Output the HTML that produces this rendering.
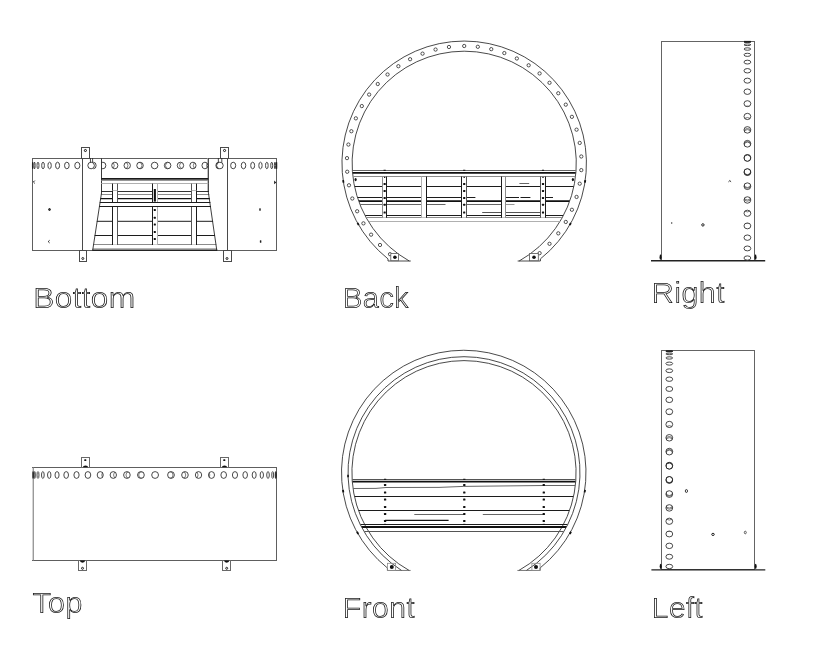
<!DOCTYPE html>
<html lang="en"><head><meta charset="utf-8"><title>Views</title>
<style>
html,body{margin:0;padding:0;background:#fff;}
body{width:819px;height:658px;overflow:hidden;font-family:"Liberation Sans",sans-serif;}
svg{display:block;}
svg text{font-family:"Liberation Sans",sans-serif;}
</style></head><body>
<svg width="819" height="658" viewBox="0 0 819 658">
<rect width="819" height="658" fill="#fff"/>
<path d="M388.00 261.0 L388.00 258.90 A122.25 122.25 0 1 1 540.40 258.90 L540.40 261.0" fill="none" stroke="#1c1c1c" stroke-width="0.8"/>
<path d="M409.24 261.0 A112.1 112.1 0 1 1 519.16 261.0" fill="none" stroke="#1c1c1c" stroke-width="0.8"/>
<line x1="388.00" y1="261.00" x2="410.74" y2="261.00" stroke="#1c1c1c" stroke-width="0.8" />
<line x1="517.66" y1="261.00" x2="540.40" y2="261.00" stroke="#1c1c1c" stroke-width="0.8" />
<ellipse cx="464.20" cy="46.00" rx="1.65" ry="1.65" fill="none" stroke="#1c1c1c" stroke-width="0.75" />
<ellipse cx="477.82" cy="46.79" rx="1.65" ry="1.65" fill="none" stroke="#1c1c1c" stroke-width="0.75" />
<ellipse cx="448.96" cy="46.99" rx="1.65" ry="1.65" fill="none" stroke="#1c1c1c" stroke-width="0.75" />
<ellipse cx="491.25" cy="49.16" rx="1.65" ry="1.65" fill="none" stroke="#1c1c1c" stroke-width="0.75" />
<ellipse cx="435.56" cy="49.55" rx="1.65" ry="1.65" fill="none" stroke="#1c1c1c" stroke-width="0.75" />
<ellipse cx="504.32" cy="53.07" rx="1.65" ry="1.65" fill="none" stroke="#1c1c1c" stroke-width="0.75" />
<ellipse cx="422.55" cy="53.64" rx="1.65" ry="1.65" fill="none" stroke="#1c1c1c" stroke-width="0.75" />
<ellipse cx="516.84" cy="58.48" rx="1.65" ry="1.65" fill="none" stroke="#1c1c1c" stroke-width="0.75" />
<ellipse cx="410.10" cy="59.22" rx="1.65" ry="1.65" fill="none" stroke="#1c1c1c" stroke-width="0.75" />
<ellipse cx="528.66" cy="65.30" rx="1.65" ry="1.65" fill="none" stroke="#1c1c1c" stroke-width="0.75" />
<ellipse cx="398.38" cy="66.21" rx="1.65" ry="1.65" fill="none" stroke="#1c1c1c" stroke-width="0.75" />
<ellipse cx="539.60" cy="73.44" rx="1.65" ry="1.65" fill="none" stroke="#1c1c1c" stroke-width="0.75" />
<ellipse cx="387.55" cy="74.50" rx="1.65" ry="1.65" fill="none" stroke="#1c1c1c" stroke-width="0.75" />
<ellipse cx="549.52" cy="82.80" rx="1.65" ry="1.65" fill="none" stroke="#1c1c1c" stroke-width="0.75" />
<ellipse cx="377.76" cy="84.00" rx="1.65" ry="1.65" fill="none" stroke="#1c1c1c" stroke-width="0.75" />
<ellipse cx="558.29" cy="93.25" rx="1.65" ry="1.65" fill="none" stroke="#1c1c1c" stroke-width="0.75" />
<ellipse cx="369.14" cy="94.57" rx="1.65" ry="1.65" fill="none" stroke="#1c1c1c" stroke-width="0.75" />
<ellipse cx="565.78" cy="104.65" rx="1.65" ry="1.65" fill="none" stroke="#1c1c1c" stroke-width="0.75" />
<ellipse cx="361.81" cy="106.07" rx="1.65" ry="1.65" fill="none" stroke="#1c1c1c" stroke-width="0.75" />
<ellipse cx="571.91" cy="116.84" rx="1.65" ry="1.65" fill="none" stroke="#1c1c1c" stroke-width="0.75" />
<ellipse cx="355.86" cy="118.35" rx="1.65" ry="1.65" fill="none" stroke="#1c1c1c" stroke-width="0.75" />
<ellipse cx="576.57" cy="129.66" rx="1.65" ry="1.65" fill="none" stroke="#1c1c1c" stroke-width="0.75" />
<ellipse cx="351.37" cy="131.23" rx="1.65" ry="1.65" fill="none" stroke="#1c1c1c" stroke-width="0.75" />
<ellipse cx="579.72" cy="142.93" rx="1.65" ry="1.65" fill="none" stroke="#1c1c1c" stroke-width="0.75" />
<ellipse cx="348.41" cy="144.55" rx="1.65" ry="1.65" fill="none" stroke="#1c1c1c" stroke-width="0.75" />
<ellipse cx="581.30" cy="156.48" rx="1.65" ry="1.65" fill="none" stroke="#1c1c1c" stroke-width="0.75" />
<ellipse cx="347.01" cy="158.12" rx="1.65" ry="1.65" fill="none" stroke="#1c1c1c" stroke-width="0.75" />
<ellipse cx="581.30" cy="170.12" rx="1.65" ry="1.65" fill="none" stroke="#1c1c1c" stroke-width="0.75" />
<ellipse cx="347.21" cy="171.75" rx="1.65" ry="1.65" fill="none" stroke="#1c1c1c" stroke-width="0.75" />
<ellipse cx="579.72" cy="183.67" rx="1.65" ry="1.65" fill="none" stroke="#1c1c1c" stroke-width="0.75" />
<ellipse cx="348.98" cy="185.28" rx="1.65" ry="1.65" fill="none" stroke="#1c1c1c" stroke-width="0.75" />
<ellipse cx="576.57" cy="196.94" rx="1.65" ry="1.65" fill="none" stroke="#1c1c1c" stroke-width="0.75" />
<ellipse cx="352.31" cy="198.51" rx="1.65" ry="1.65" fill="none" stroke="#1c1c1c" stroke-width="0.75" />
<ellipse cx="571.91" cy="209.76" rx="1.65" ry="1.65" fill="none" stroke="#1c1c1c" stroke-width="0.75" />
<ellipse cx="357.15" cy="211.26" rx="1.65" ry="1.65" fill="none" stroke="#1c1c1c" stroke-width="0.75" />
<ellipse cx="565.78" cy="221.95" rx="1.65" ry="1.65" fill="none" stroke="#1c1c1c" stroke-width="0.75" />
<ellipse cx="363.44" cy="223.36" rx="1.65" ry="1.65" fill="none" stroke="#1c1c1c" stroke-width="0.75" />
<ellipse cx="558.29" cy="233.35" rx="1.65" ry="1.65" fill="none" stroke="#1c1c1c" stroke-width="0.75" />
<ellipse cx="371.10" cy="234.65" rx="1.65" ry="1.65" fill="none" stroke="#1c1c1c" stroke-width="0.75" />
<ellipse cx="549.52" cy="243.80" rx="1.65" ry="1.65" fill="none" stroke="#1c1c1c" stroke-width="0.75" />
<ellipse cx="380.01" cy="244.98" rx="1.65" ry="1.65" fill="none" stroke="#1c1c1c" stroke-width="0.75" />
<ellipse cx="539.60" cy="253.16" rx="1.65" ry="1.65" fill="none" stroke="#1c1c1c" stroke-width="0.75" />
<ellipse cx="390.06" cy="254.20" rx="1.65" ry="1.65" fill="none" stroke="#1c1c1c" stroke-width="0.75" />
<rect x="390.80" y="253.60" width="7.80" height="7.10" fill="#fff" stroke="#555" stroke-width="0.8"/>
<circle cx="394.90" cy="257.30" r="1.8" fill="#111"/>
<rect x="529.50" y="253.60" width="8.80" height="7.10" fill="#fff" stroke="#555" stroke-width="0.8"/>
<circle cx="534.00" cy="257.30" r="1.8" fill="#111"/>
<line x1="343.49" y1="182.63" x2="343.11" y2="180.10" stroke="#111" stroke-width="1.8" />
<line x1="585.29" y1="180.10" x2="584.91" y2="182.63" stroke="#111" stroke-width="1.8" />
<line x1="358.76" y1="225.16" x2="357.49" y2="222.94" stroke="#111" stroke-width="1.8" />
<line x1="570.91" y1="222.94" x2="569.64" y2="225.16" stroke="#111" stroke-width="1.8" />
<clipPath id="cb"><circle cx="464.2" cy="163.3" r="111.89999999999999"/></clipPath>
<g clip-path="url(#cb)">
<line x1="340.00" y1="170.50" x2="590.00" y2="170.50" stroke="#555" stroke-width="0.9" />
<line x1="340.00" y1="172.85" x2="590.00" y2="172.85" stroke="#111" stroke-width="1.85" />
<line x1="340.00" y1="176.50" x2="590.00" y2="176.50" stroke="#8c8c8c" stroke-width="1.0" />
<line x1="340.00" y1="186.50" x2="590.00" y2="186.50" stroke="#1c1c1c" stroke-width="1.0" />
<line x1="340.00" y1="197.50" x2="475.40" y2="197.50" stroke="#1c1c1c" stroke-width="1.0" />
<line x1="505.70" y1="197.50" x2="519.00" y2="197.50" stroke="#1c1c1c" stroke-width="1.0" />
<line x1="520.50" y1="197.50" x2="530.40" y2="197.50" stroke="#1c1c1c" stroke-width="1.0" />
<line x1="545.30" y1="197.50" x2="553.00" y2="197.50" stroke="#1c1c1c" stroke-width="1.0" />
<line x1="340.00" y1="201.20" x2="590.00" y2="201.20" stroke="#111" stroke-width="1.7" />
<line x1="340.00" y1="204.50" x2="445.50" y2="204.50" stroke="#555" stroke-width="0.9" />
<line x1="466.60" y1="204.50" x2="501.70" y2="204.50" stroke="#555" stroke-width="0.9" />
<line x1="505.70" y1="204.50" x2="514.50" y2="204.50" stroke="#8c8c8c" stroke-width="0.9" />
<line x1="482.20" y1="212.50" x2="540.80" y2="212.50" stroke="#555" stroke-width="1.0" />
<line x1="519.40" y1="183.50" x2="529.20" y2="183.50" stroke="#555" stroke-width="0.9" />
<line x1="340.00" y1="215.50" x2="590.00" y2="215.50" stroke="#1c1c1c" stroke-width="1.0" />
<line x1="340.00" y1="217.50" x2="590.00" y2="217.50" stroke="#8c8c8c" stroke-width="1.0" />
<line x1="340.00" y1="221.50" x2="590.00" y2="221.50" stroke="#b0b0b0" stroke-width="1.0" />
<rect x="382.5" y="177.5" width="4.00" height="40.0" fill="#fff"/>
<line x1="382.50" y1="176.50" x2="382.50" y2="217.80" stroke="#8c8c8c" stroke-width="1.0" />
<line x1="386.50" y1="176.50" x2="386.50" y2="217.80" stroke="#1c1c1c" stroke-width="1.0" />
<rect x="383.57" y="182.92" width="2.1849999999999996" height="1.9549999999999998" rx="0.5" fill="#111"/>
<rect x="383.57" y="190.02" width="2.1849999999999996" height="1.9549999999999998" rx="0.5" fill="#111"/>
<rect x="383.57" y="197.12" width="2.1849999999999996" height="1.9549999999999998" rx="0.5" fill="#111"/>
<rect x="383.57" y="203.82" width="2.1849999999999996" height="1.9549999999999998" rx="0.5" fill="#111"/>
<rect x="383.57" y="211.62" width="2.1849999999999996" height="1.9549999999999998" rx="0.5" fill="#111"/>
<line x1="383.56" y1="170.30" x2="385.76" y2="170.30" stroke="#111" stroke-width="1.1" />
<rect x="383.97" y="176.83" width="1.38" height="1.15" rx="0.5" fill="#111"/>
<rect x="421.5" y="177.5" width="5.00" height="40.0" fill="#fff"/>
<line x1="421.50" y1="176.50" x2="421.50" y2="217.80" stroke="#b0b0b0" stroke-width="1.0" />
<line x1="426.50" y1="176.50" x2="426.50" y2="217.80" stroke="#1c1c1c" stroke-width="1.0" />
<rect x="461.5" y="177.5" width="5.00" height="40.0" fill="#fff"/>
<line x1="461.50" y1="176.50" x2="461.50" y2="217.80" stroke="#1c1c1c" stroke-width="1.0" />
<line x1="466.50" y1="176.50" x2="466.50" y2="217.80" stroke="#555" stroke-width="1.0" />
<rect x="463.11" y="182.92" width="2.1849999999999996" height="1.9549999999999998" rx="0.5" fill="#111"/>
<rect x="463.11" y="190.02" width="2.1849999999999996" height="1.9549999999999998" rx="0.5" fill="#111"/>
<rect x="463.11" y="197.12" width="2.1849999999999996" height="1.9549999999999998" rx="0.5" fill="#111"/>
<rect x="463.11" y="203.82" width="2.1849999999999996" height="1.9549999999999998" rx="0.5" fill="#111"/>
<rect x="463.11" y="211.62" width="2.1849999999999996" height="1.9549999999999998" rx="0.5" fill="#111"/>
<line x1="463.10" y1="170.30" x2="465.30" y2="170.30" stroke="#111" stroke-width="1.1" />
<rect x="463.51" y="176.83" width="1.38" height="1.15" rx="0.5" fill="#111"/>
<rect x="501.5" y="177.5" width="4.00" height="40.0" fill="#fff"/>
<line x1="501.50" y1="176.50" x2="501.50" y2="217.80" stroke="#1c1c1c" stroke-width="1.0" />
<line x1="505.50" y1="176.50" x2="505.50" y2="217.80" stroke="#8c8c8c" stroke-width="1.0" />
<rect x="540.5" y="177.5" width="5.00" height="40.0" fill="#fff"/>
<line x1="540.50" y1="176.50" x2="540.50" y2="217.80" stroke="#555" stroke-width="1.0" />
<line x1="545.50" y1="176.50" x2="545.50" y2="217.80" stroke="#1c1c1c" stroke-width="1.0" />
<rect x="541.91" y="182.92" width="2.1849999999999996" height="1.9549999999999998" rx="0.5" fill="#111"/>
<rect x="541.91" y="190.02" width="2.1849999999999996" height="1.9549999999999998" rx="0.5" fill="#111"/>
<rect x="541.91" y="197.12" width="2.1849999999999996" height="1.9549999999999998" rx="0.5" fill="#111"/>
<rect x="541.91" y="203.82" width="2.1849999999999996" height="1.9549999999999998" rx="0.5" fill="#111"/>
<rect x="541.91" y="211.62" width="2.1849999999999996" height="1.9549999999999998" rx="0.5" fill="#111"/>
<line x1="541.90" y1="170.30" x2="544.10" y2="170.30" stroke="#111" stroke-width="1.1" />
<rect x="542.31" y="176.83" width="1.38" height="1.15" rx="0.5" fill="#111"/>
<ellipse cx="355.6" cy="179.6" rx="1.1" ry="1.6" fill="#111"/>
<ellipse cx="572.9" cy="179.6" rx="1.1" ry="1.6" fill="#111"/>
</g>
<path d="M387.40 570.45 L387.40 567.98 A122.25 122.25 0 1 1 540.10 567.98 L540.10 570.45" fill="none" stroke="#1c1c1c" stroke-width="0.8"/>
<path d="M401.54 570.45 A116.0 116.0 0 1 1 526.46 570.45" fill="none" stroke="#1c1c1c" stroke-width="0.8"/>
<path d="M409.12 570.45 A112.1 112.1 0 1 1 518.88 570.45" fill="none" stroke="#1c1c1c" stroke-width="0.8"/>
<line x1="387.40" y1="570.45" x2="410.62" y2="570.45" stroke="#555" stroke-width="0.8" />
<line x1="517.38" y1="570.45" x2="540.10" y2="570.45" stroke="#555" stroke-width="0.8" />
<rect x="387.40" y="563.30" width="8.20" height="7.15" fill="none" stroke="#8c8c8c" stroke-width="0.8"/>
<circle cx="391.80" cy="567.00" r="2.0" fill="#111"/>
<rect x="531.90" y="563.30" width="8.20" height="7.15" fill="none" stroke="#8c8c8c" stroke-width="0.8"/>
<circle cx="536.00" cy="567.00" r="2.0" fill="#111"/>
<line x1="343.36" y1="492.46" x2="342.97" y2="489.93" stroke="#111" stroke-width="1.8" />
<line x1="585.03" y1="489.93" x2="584.64" y2="492.46" stroke="#111" stroke-width="1.8" />
<line x1="358.24" y1="534.01" x2="356.97" y2="531.78" stroke="#111" stroke-width="1.8" />
<line x1="571.03" y1="531.78" x2="569.76" y2="534.01" stroke="#111" stroke-width="1.8" />
<line x1="348.09" y1="477.15" x2="348.02" y2="474.72" stroke="#111" stroke-width="1.6" />
<clipPath id="cf"><circle cx="464.0" cy="472.7" r="111.89999999999999"/></clipPath>
<clipPath id="cf2"><circle cx="464.0" cy="472.7" r="115.8"/></clipPath>
<g clip-path="url(#cf)">
<line x1="340.00" y1="479.50" x2="590.00" y2="479.50" stroke="#555" stroke-width="1.0" />
<line x1="340.00" y1="481.70" x2="590.00" y2="481.70" stroke="#111" stroke-width="1.7" />
<polyline points="340,488.6 353,488.5 376,488.4 386,487.5 439,487.4 463.8,486.4 543.8,485.5 590,485.5" fill="none" stroke="#555" stroke-width="0.9"/>
<line x1="340.00" y1="496.50" x2="590.00" y2="496.50" stroke="#1c1c1c" stroke-width="1.0" />
<line x1="340.00" y1="510.50" x2="590.00" y2="510.50" stroke="#1c1c1c" stroke-width="1.0" />
<line x1="414.30" y1="514.50" x2="463.80" y2="514.50" stroke="#555" stroke-width="0.9" />
<line x1="482.80" y1="514.50" x2="543.80" y2="514.50" stroke="#555" stroke-width="0.9" />
<line x1="385.10" y1="520.40" x2="448.60" y2="520.40" stroke="#111" stroke-width="1.25" />
</g><g clip-path="url(#cf2)">
<line x1="340.00" y1="524.50" x2="590.00" y2="524.50" stroke="#1c1c1c" stroke-width="1.0" />
<line x1="340.00" y1="527.00" x2="590.00" y2="527.00" stroke="#111" stroke-width="1.8" />
<line x1="340.00" y1="531.50" x2="590.00" y2="531.50" stroke="#555" stroke-width="1.0" />
</g>
<rect x="383.95" y="483.99" width="2.3" height="2.0124999999999997" rx="0.5" fill="#111"/>
<rect x="383.95" y="491.59" width="2.3" height="2.0124999999999997" rx="0.5" fill="#111"/>
<rect x="383.95" y="498.39" width="2.3" height="2.0124999999999997" rx="0.5" fill="#111"/>
<rect x="383.95" y="505.89" width="2.3" height="2.0124999999999997" rx="0.5" fill="#111"/>
<rect x="383.95" y="512.89" width="2.3" height="2.0124999999999997" rx="0.5" fill="#111"/>
<rect x="383.95" y="519.89" width="2.3" height="2.0124999999999997" rx="0.5" fill="#111"/>
<line x1="384.00" y1="479.30" x2="386.20" y2="479.30" stroke="#111" stroke-width="1.1" />
<line x1="384.00" y1="524.40" x2="386.20" y2="524.40" stroke="#111" stroke-width="1.1" />
<rect x="463.15" y="483.99" width="2.3" height="2.0124999999999997" rx="0.5" fill="#111"/>
<rect x="463.15" y="491.59" width="2.3" height="2.0124999999999997" rx="0.5" fill="#111"/>
<rect x="463.15" y="498.39" width="2.3" height="2.0124999999999997" rx="0.5" fill="#111"/>
<rect x="463.15" y="505.89" width="2.3" height="2.0124999999999997" rx="0.5" fill="#111"/>
<rect x="463.15" y="512.89" width="2.3" height="2.0124999999999997" rx="0.5" fill="#111"/>
<rect x="463.15" y="519.89" width="2.3" height="2.0124999999999997" rx="0.5" fill="#111"/>
<line x1="463.20" y1="479.30" x2="465.40" y2="479.30" stroke="#111" stroke-width="1.1" />
<line x1="463.20" y1="524.40" x2="465.40" y2="524.40" stroke="#111" stroke-width="1.1" />
<rect x="542.65" y="483.99" width="2.3" height="2.0124999999999997" rx="0.5" fill="#111"/>
<rect x="542.65" y="491.59" width="2.3" height="2.0124999999999997" rx="0.5" fill="#111"/>
<rect x="542.65" y="498.39" width="2.3" height="2.0124999999999997" rx="0.5" fill="#111"/>
<rect x="542.65" y="505.89" width="2.3" height="2.0124999999999997" rx="0.5" fill="#111"/>
<rect x="542.65" y="512.89" width="2.3" height="2.0124999999999997" rx="0.5" fill="#111"/>
<rect x="542.65" y="519.89" width="2.3" height="2.0124999999999997" rx="0.5" fill="#111"/>
<line x1="542.70" y1="479.30" x2="544.90" y2="479.30" stroke="#111" stroke-width="1.1" />
<line x1="542.70" y1="524.40" x2="544.90" y2="524.40" stroke="#111" stroke-width="1.1" />
<rect x="32.5" y="158.5" width="244.0" height="92.0" fill="none" stroke="#5e5e5e" stroke-width="1"/>
<line x1="82.50" y1="158.20" x2="82.50" y2="251.00" stroke="#4a4a4a" stroke-width="1.0" />
<line x1="227.50" y1="158.20" x2="227.50" y2="251.00" stroke="#4a4a4a" stroke-width="1.0" />
<line x1="101.50" y1="158.20" x2="101.50" y2="193.50" stroke="#3a3a3a" stroke-width="1.0" />
<line x1="208.50" y1="158.20" x2="208.50" y2="192.00" stroke="#4a4a4a" stroke-width="1.0" />
<line x1="207.50" y1="158.20" x2="207.50" y2="192.00" stroke="#b0b0b0" stroke-width="0.8" />
<rect x="81.5" y="147.5" width="8.0" height="11.0" fill="none" stroke="#4a4a4a" stroke-width="1"/>
<ellipse cx="85.40" cy="150.50" rx="1.05" ry="1.05" fill="none" stroke="#111" stroke-width="1.0" />
<rect x="220.5" y="147.5" width="8.0" height="11.0" fill="none" stroke="#4a4a4a" stroke-width="1"/>
<ellipse cx="224.55" cy="150.50" rx="1.05" ry="1.05" fill="none" stroke="#111" stroke-width="1.0" />
<line x1="90.45" y1="158.20" x2="90.45" y2="162.50" stroke="#1c1c1c" stroke-width="0.8" />
<line x1="92.60" y1="158.20" x2="92.60" y2="162.50" stroke="#1c1c1c" stroke-width="0.8" />
<line x1="218.35" y1="158.20" x2="218.35" y2="162.50" stroke="#1c1c1c" stroke-width="0.8" />
<line x1="221.80" y1="158.20" x2="221.80" y2="162.50" stroke="#1c1c1c" stroke-width="0.8" />
<rect x="79.5" y="250.5" width="7.0" height="11.0" fill="none" stroke="#4a4a4a" stroke-width="1"/>
<ellipse cx="82.80" cy="258.50" rx="1.00" ry="1.00" fill="none" stroke="#111" stroke-width="0.9" />
<rect x="223.5" y="250.5" width="8.0" height="11.0" fill="none" stroke="#4a4a4a" stroke-width="1"/>
<ellipse cx="227.00" cy="258.50" rx="1.00" ry="1.00" fill="none" stroke="#111" stroke-width="0.9" />
<clipPath id="cD"><rect x="101.6" y="150" width="60" height="30"/></clipPath>
<ellipse cx="154.60" cy="165.50" rx="3.30" ry="3.30" fill="#fff" stroke="#1c1c1c" stroke-width="0.8" />
<ellipse cx="140.03" cy="165.50" rx="3.27" ry="3.30" fill="#fff" stroke="#1c1c1c" stroke-width="0.8" />
<clipPath id="h1"><ellipse cx="140.03" cy="165.50" rx="3.27" ry="3.30"/></clipPath>
<ellipse cx="138.71" cy="165.50" rx="3.27" ry="3.30" fill="none" stroke="#333" stroke-width="0.6400000000000001" clip-path="url(#h1)"/>
<ellipse cx="167.61" cy="165.50" rx="3.28" ry="3.30" fill="#fff" stroke="#1c1c1c" stroke-width="0.8" />
<clipPath id="h2"><ellipse cx="167.61" cy="165.50" rx="3.28" ry="3.30"/></clipPath>
<ellipse cx="168.79" cy="165.50" rx="3.28" ry="3.30" fill="none" stroke="#333" stroke-width="0.6400000000000001" clip-path="url(#h2)"/>
<ellipse cx="127.23" cy="165.50" rx="3.20" ry="3.30" fill="#fff" stroke="#1c1c1c" stroke-width="0.8" />
<clipPath id="h3"><ellipse cx="127.23" cy="165.50" rx="3.20" ry="3.30"/></clipPath>
<ellipse cx="124.75" cy="165.50" rx="3.20" ry="3.30" fill="none" stroke="#333" stroke-width="0.6400000000000001" clip-path="url(#h3)"/>
<ellipse cx="180.45" cy="165.50" rx="3.21" ry="3.30" fill="#fff" stroke="#1c1c1c" stroke-width="0.8" />
<clipPath id="h4"><ellipse cx="180.45" cy="165.50" rx="3.21" ry="3.30"/></clipPath>
<ellipse cx="182.79" cy="165.50" rx="3.21" ry="3.30" fill="none" stroke="#333" stroke-width="0.6400000000000001" clip-path="url(#h4)"/>
<ellipse cx="114.79" cy="165.50" rx="3.08" ry="3.30" fill="#fff" stroke="#1c1c1c" stroke-width="0.8" />
<clipPath id="h5"><ellipse cx="114.79" cy="165.50" rx="3.08" ry="3.30"/></clipPath>
<ellipse cx="111.19" cy="165.50" rx="3.08" ry="3.30" fill="none" stroke="#333" stroke-width="0.6400000000000001" clip-path="url(#h5)"/>
<ellipse cx="192.94" cy="165.50" rx="3.10" ry="3.30" fill="#fff" stroke="#1c1c1c" stroke-width="0.8" />
<clipPath id="h6"><ellipse cx="192.94" cy="165.50" rx="3.10" ry="3.30"/></clipPath>
<ellipse cx="196.41" cy="165.50" rx="3.10" ry="3.30" fill="none" stroke="#333" stroke-width="0.6400000000000001" clip-path="url(#h6)"/>
<g clip-path="url(#cD)">
<ellipse cx="102.90" cy="165.50" rx="2.93" ry="3.30" fill="none" stroke="#1c1c1c" stroke-width="0.8" />
</g>
<ellipse cx="204.91" cy="165.50" rx="2.95" ry="3.30" fill="#fff" stroke="#1c1c1c" stroke-width="0.8" />
<clipPath id="h7"><ellipse cx="204.91" cy="165.50" rx="2.95" ry="3.30"/></clipPath>
<ellipse cx="209.47" cy="165.50" rx="2.95" ry="3.30" fill="none" stroke="#333" stroke-width="0.6400000000000001" clip-path="url(#h7)"/>
<ellipse cx="32.67" cy="165.50" rx="0.24" ry="3.30" fill="#333" stroke="#1c1c1c" stroke-width="0.8" />
<ellipse cx="276.64" cy="165.50" rx="0.19" ry="3.30" fill="#333" stroke="#1c1c1c" stroke-width="0.8" />
<ellipse cx="34.52" cy="165.50" rx="0.62" ry="3.30" fill="none" stroke="#1c1c1c" stroke-width="0.8" />
<ellipse cx="274.99" cy="165.50" rx="0.57" ry="3.30" fill="none" stroke="#1c1c1c" stroke-width="0.8" />
<ellipse cx="37.99" cy="165.50" rx="0.99" ry="3.30" fill="#fff" stroke="#1c1c1c" stroke-width="0.8" />
<ellipse cx="271.71" cy="165.50" rx="0.95" ry="3.30" fill="#fff" stroke="#1c1c1c" stroke-width="0.8" />
<ellipse cx="43.04" cy="165.50" rx="1.35" ry="3.30" fill="#fff" stroke="#1c1c1c" stroke-width="0.8" />
<ellipse cx="266.85" cy="165.50" rx="1.31" ry="3.30" fill="#fff" stroke="#1c1c1c" stroke-width="0.8" />
<ellipse cx="49.59" cy="165.50" rx="1.69" ry="3.30" fill="#fff" stroke="#1c1c1c" stroke-width="0.8" />
<ellipse cx="260.47" cy="165.50" rx="1.65" ry="3.30" fill="#fff" stroke="#1c1c1c" stroke-width="0.8" />
<ellipse cx="57.57" cy="165.50" rx="2.01" ry="3.30" fill="#fff" stroke="#1c1c1c" stroke-width="0.8" />
<ellipse cx="252.66" cy="165.50" rx="1.97" ry="3.30" fill="#fff" stroke="#1c1c1c" stroke-width="0.8" />
<ellipse cx="66.86" cy="165.50" rx="2.30" ry="3.30" fill="#fff" stroke="#1c1c1c" stroke-width="0.8" />
<ellipse cx="243.52" cy="165.50" rx="2.26" ry="3.30" fill="#fff" stroke="#1c1c1c" stroke-width="0.8" />
<ellipse cx="77.33" cy="165.50" rx="2.56" ry="3.30" fill="#fff" stroke="#1c1c1c" stroke-width="0.8" />
<ellipse cx="233.18" cy="165.50" rx="2.53" ry="3.30" fill="#fff" stroke="#1c1c1c" stroke-width="0.8" />
<ellipse cx="91.10" cy="165.50" rx="3.30" ry="3.30" fill="none" stroke="#1c1c1c" stroke-width="0.8" />
<path d="M93.4 162.20 A2.7 3.3 0 0 1 93.4 168.80" fill="none" stroke="#1c1c1c" stroke-width="0.8"/>
<ellipse cx="219.90" cy="165.50" rx="3.30" ry="3.30" fill="none" stroke="#1c1c1c" stroke-width="0.8" />
<path d="M218.6 162.20 A2.7 3.3 0 0 0 218.6 168.80" fill="none" stroke="#1c1c1c" stroke-width="0.8"/>
<path d="M34.8 180.6 L33.4 182 L34.8 183.4" fill="none" stroke="#111" stroke-width="0.9"/>
<path d="M274.2 180.5 L276.2 182.4 L274.2 184.3 Z" fill="#111"/>
<ellipse cx="49.50" cy="209.50" rx="0.90" ry="1.00" fill="#444" stroke="#111" stroke-width="0.9" />
<path d="M49.6 240.3 L48.2 241.6 L49.6 242.9" fill="none" stroke="#111" stroke-width="0.9"/>
<rect x="259.25" y="208.35" width="1.4949999999999999" height="2.3" rx="0.5" fill="#222"/>
<rect x="259.85" y="240.35" width="1.4949999999999999" height="2.3" rx="0.5" fill="#222"/>
<line x1="101.30" y1="178.90" x2="208.20" y2="178.90" stroke="#1a1a1a" stroke-width="1.7" />
<line x1="101.30" y1="180.40" x2="208.20" y2="180.40" stroke="#8c8c8c" stroke-width="1.0" />
<line x1="101.30" y1="183.50" x2="208.20" y2="183.50" stroke="#b0b0b0" stroke-width="1.0" />
<clipPath id="ct"><polygon points="101.2,183 208.9,183 208.9,192 217.2,250.8 92.3,250.8 101.2,193.2"/></clipPath>
<g clip-path="url(#ct)">
<line x1="85.00" y1="191.50" x2="225.00" y2="191.50" stroke="#1c1c1c" stroke-width="0.9" />
<line x1="85.00" y1="194.50" x2="225.00" y2="194.50" stroke="#8c8c8c" stroke-width="1.0" />
<line x1="85.00" y1="198.60" x2="225.00" y2="198.60" stroke="#111" stroke-width="1.4" />
<line x1="85.00" y1="221.30" x2="225.00" y2="221.30" stroke="#1c1c1c" stroke-width="1.0" />
<line x1="85.00" y1="235.50" x2="225.00" y2="235.50" stroke="#1c1c1c" stroke-width="1.0" />
<line x1="85.00" y1="244.50" x2="225.00" y2="244.50" stroke="#8c8c8c" stroke-width="1.1" />
<line x1="85.00" y1="248.50" x2="225.00" y2="248.50" stroke="#b0b0b0" stroke-width="0.9" />
<rect x="112.5" y="184" width="5.00" height="60.6" fill="#fff"/>
<line x1="112.50" y1="183.60" x2="112.50" y2="245.00" stroke="#1c1c1c" stroke-width="1.0" />
<line x1="117.50" y1="183.60" x2="117.50" y2="245.00" stroke="#555" stroke-width="1.0" />
<rect x="152.5" y="184" width="5.00" height="60.6" fill="#fff"/>
<line x1="152.50" y1="183.60" x2="152.50" y2="245.00" stroke="#1c1c1c" stroke-width="1.0" />
<line x1="157.50" y1="183.60" x2="157.50" y2="245.00" stroke="#b0b0b0" stroke-width="1.0" />
<rect x="191.5" y="184" width="5.00" height="60.6" fill="#fff"/>
<line x1="191.50" y1="183.60" x2="191.50" y2="245.00" stroke="#555" stroke-width="1.0" />
<line x1="196.50" y1="183.60" x2="196.50" y2="245.00" stroke="#1c1c1c" stroke-width="1.0" />
<line x1="112.50" y1="190.50" x2="117.50" y2="190.50" stroke="#b0b0b0" stroke-width="0.9" />
<line x1="191.50" y1="190.50" x2="196.50" y2="190.50" stroke="#b0b0b0" stroke-width="0.9" />
<rect x="85" y="202.5" width="140" height="4.1" fill="#fff"/>
<line x1="85.00" y1="202.50" x2="225.00" y2="202.50" stroke="#1c1c1c" stroke-width="1.0" />
<line x1="85.00" y1="206.50" x2="225.00" y2="206.50" stroke="#1c1c1c" stroke-width="1.0" />
</g>
<line x1="101.50" y1="193.00" x2="92.70" y2="250.30" stroke="#1c1c1c" stroke-width="0.85" />
<line x1="208.30" y1="192.00" x2="216.80" y2="250.30" stroke="#1c1c1c" stroke-width="0.85" />
<line x1="92.30" y1="250.15" x2="217.20" y2="250.15" stroke="#111" stroke-width="1.2" />
<rect x="153.8" y="189" width="2.1" height="12.6" fill="#111"/>
<rect x="153.77" y="209.02" width="2.07" height="1.9549999999999998" rx="0.5" fill="#111"/>
<rect x="153.77" y="216.72" width="2.07" height="1.9549999999999998" rx="0.5" fill="#111"/>
<rect x="153.77" y="223.62" width="2.07" height="1.9549999999999998" rx="0.5" fill="#111"/>
<rect x="153.77" y="231.12" width="2.07" height="1.9549999999999998" rx="0.5" fill="#111"/>
<rect x="153.77" y="238.12" width="2.07" height="1.9549999999999998" rx="0.5" fill="#111"/>
<rect x="32.5" y="467.5" width="244.0" height="93.0" fill="none" stroke="#5e5e5e" stroke-width="1"/>
<rect x="31.5" y="468" width="3" height="92" fill="#fff"/>
<line x1="33.25" y1="467.50" x2="33.25" y2="560.50" stroke="#8c8c8c" stroke-width="1.25" />
<rect x="81.5" y="457.5" width="8.0" height="10.0" fill="none" stroke="#686868" stroke-width="1"/>
<rect x="84.27" y="459.18" width="2.07" height="1.8399999999999999" rx="0.5" fill="#111"/>
<path d="M82.90 467.3 A2.6 1.7 0 0 1 88.10 467.3 Z" fill="#111"/>
<rect x="220.5" y="457.5" width="8.0" height="10.0" fill="none" stroke="#686868" stroke-width="1"/>
<rect x="223.27" y="459.18" width="2.07" height="1.8399999999999999" rx="0.5" fill="#111"/>
<path d="M221.90 467.3 A2.6 1.7 0 0 1 227.10 467.3 Z" fill="#111"/>
<rect x="78.5" y="560.5" width="8.0" height="10.0" fill="none" stroke="#686868" stroke-width="1"/>
<path d="M79.90 560.6 A2.6 2.1 0 0 0 85.10 560.6 Z" fill="#111"/>
<ellipse cx="82.50" cy="568.30" rx="1.00" ry="1.00" fill="none" stroke="#111" stroke-width="0.9" />
<rect x="222.5" y="560.5" width="8.0" height="10.0" fill="none" stroke="#686868" stroke-width="1"/>
<path d="M224.10 560.6 A2.6 2.1 0 0 0 229.30 560.6 Z" fill="#111"/>
<ellipse cx="226.70" cy="568.30" rx="1.00" ry="1.00" fill="none" stroke="#111" stroke-width="0.9" />
<ellipse cx="155.10" cy="475.00" rx="3.40" ry="3.40" fill="#fff" stroke="#1c1c1c" stroke-width="0.8" />
<ellipse cx="140.91" cy="475.00" rx="3.38" ry="3.40" fill="#fff" stroke="#1c1c1c" stroke-width="0.8" />
<clipPath id="h8"><ellipse cx="140.91" cy="475.00" rx="3.38" ry="3.40"/></clipPath>
<ellipse cx="142.09" cy="475.00" rx="3.38" ry="3.40" fill="none" stroke="#333" stroke-width="0.6400000000000001" clip-path="url(#h8)"/>
<ellipse cx="170.99" cy="475.00" rx="3.37" ry="3.40" fill="#fff" stroke="#1c1c1c" stroke-width="0.8" />
<clipPath id="h9"><ellipse cx="170.99" cy="475.00" rx="3.37" ry="3.40"/></clipPath>
<ellipse cx="169.67" cy="475.00" rx="3.37" ry="3.40" fill="none" stroke="#333" stroke-width="0.6400000000000001" clip-path="url(#h9)"/>
<ellipse cx="126.91" cy="475.00" rx="3.31" ry="3.40" fill="#fff" stroke="#1c1c1c" stroke-width="0.8" />
<clipPath id="h10"><ellipse cx="126.91" cy="475.00" rx="3.31" ry="3.40"/></clipPath>
<ellipse cx="129.25" cy="475.00" rx="3.31" ry="3.40" fill="none" stroke="#333" stroke-width="0.6400000000000001" clip-path="url(#h10)"/>
<ellipse cx="184.95" cy="475.00" rx="3.30" ry="3.40" fill="#fff" stroke="#1c1c1c" stroke-width="0.8" />
<clipPath id="h11"><ellipse cx="184.95" cy="475.00" rx="3.30" ry="3.40"/></clipPath>
<ellipse cx="182.47" cy="475.00" rx="3.30" ry="3.40" fill="none" stroke="#333" stroke-width="0.6400000000000001" clip-path="url(#h11)"/>
<ellipse cx="113.29" cy="475.00" rx="3.19" ry="3.40" fill="#fff" stroke="#1c1c1c" stroke-width="0.8" />
<clipPath id="h12"><ellipse cx="113.29" cy="475.00" rx="3.19" ry="3.40"/></clipPath>
<ellipse cx="116.76" cy="475.00" rx="3.19" ry="3.40" fill="none" stroke="#333" stroke-width="0.6400000000000001" clip-path="url(#h12)"/>
<ellipse cx="198.51" cy="475.00" rx="3.18" ry="3.40" fill="#fff" stroke="#1c1c1c" stroke-width="0.8" />
<clipPath id="h13"><ellipse cx="198.51" cy="475.00" rx="3.18" ry="3.40"/></clipPath>
<ellipse cx="194.91" cy="475.00" rx="3.18" ry="3.40" fill="none" stroke="#333" stroke-width="0.6400000000000001" clip-path="url(#h13)"/>
<ellipse cx="100.23" cy="475.00" rx="3.04" ry="3.40" fill="#fff" stroke="#1c1c1c" stroke-width="0.8" />
<clipPath id="h14"><ellipse cx="100.23" cy="475.00" rx="3.04" ry="3.40"/></clipPath>
<ellipse cx="104.79" cy="475.00" rx="3.04" ry="3.40" fill="none" stroke="#333" stroke-width="0.6400000000000001" clip-path="url(#h14)"/>
<ellipse cx="211.49" cy="475.00" rx="3.02" ry="3.40" fill="#fff" stroke="#1c1c1c" stroke-width="0.8" />
<clipPath id="h15"><ellipse cx="211.49" cy="475.00" rx="3.02" ry="3.40"/></clipPath>
<ellipse cx="206.80" cy="475.00" rx="3.02" ry="3.40" fill="none" stroke="#333" stroke-width="0.6400000000000001" clip-path="url(#h15)"/>
<ellipse cx="87.92" cy="475.00" rx="2.84" ry="3.40" fill="#fff" stroke="#1c1c1c" stroke-width="0.8" />
<ellipse cx="223.70" cy="475.00" rx="2.81" ry="3.40" fill="#fff" stroke="#1c1c1c" stroke-width="0.8" />
<ellipse cx="76.52" cy="475.00" rx="2.60" ry="3.40" fill="#fff" stroke="#1c1c1c" stroke-width="0.8" />
<ellipse cx="234.98" cy="475.00" rx="2.57" ry="3.40" fill="#fff" stroke="#1c1c1c" stroke-width="0.8" />
<ellipse cx="66.18" cy="475.00" rx="2.33" ry="3.40" fill="#fff" stroke="#1c1c1c" stroke-width="0.8" />
<ellipse cx="245.18" cy="475.00" rx="2.30" ry="3.40" fill="#fff" stroke="#1c1c1c" stroke-width="0.8" />
<ellipse cx="57.04" cy="475.00" rx="2.03" ry="3.40" fill="#fff" stroke="#1c1c1c" stroke-width="0.8" />
<ellipse cx="254.17" cy="475.00" rx="1.99" ry="3.40" fill="#fff" stroke="#1c1c1c" stroke-width="0.8" />
<ellipse cx="49.23" cy="475.00" rx="1.70" ry="3.40" fill="#fff" stroke="#1c1c1c" stroke-width="0.8" />
<ellipse cx="261.81" cy="475.00" rx="1.66" ry="3.40" fill="#fff" stroke="#1c1c1c" stroke-width="0.8" />
<ellipse cx="42.85" cy="475.00" rx="1.35" ry="3.40" fill="#fff" stroke="#1c1c1c" stroke-width="0.8" />
<ellipse cx="268.02" cy="475.00" rx="1.30" ry="3.40" fill="#fff" stroke="#1c1c1c" stroke-width="0.8" />
<ellipse cx="37.99" cy="475.00" rx="0.98" ry="3.40" fill="#fff" stroke="#1c1c1c" stroke-width="0.8" />
<ellipse cx="272.69" cy="475.00" rx="0.93" ry="3.40" fill="#fff" stroke="#1c1c1c" stroke-width="0.8" />
<ellipse cx="34.71" cy="475.00" rx="0.59" ry="3.40" fill="none" stroke="#1c1c1c" stroke-width="0.8" />
<ellipse cx="275.78" cy="475.00" rx="0.54" ry="3.40" fill="#333" stroke="#1c1c1c" stroke-width="0.8" />
<ellipse cx="33.06" cy="475.00" rx="0.20" ry="3.40" fill="#333" stroke="#1c1c1c" stroke-width="0.8" />
<rect x="661.5" y="41.5" width="93.0" height="219.0" fill="none" stroke="#646464" stroke-width="1"/>
<line x1="651.00" y1="260.80" x2="765.20" y2="260.80" stroke="#222" stroke-width="1.4" />
<ellipse cx="660.55" cy="257.20" rx="1.0" ry="2.6" fill="#111"/>
<ellipse cx="755.50" cy="257.20" rx="1.0" ry="2.6" fill="#111"/>
<line x1="744.00" y1="41.55" x2="750.80" y2="41.55" stroke="#111" stroke-width="1.3" />
<ellipse cx="747.40" cy="42.09" rx="3.40" ry="0.44" fill="#333" stroke="#1c1c1c" stroke-width="0.8" />
<ellipse cx="747.40" cy="44.75" rx="3.40" ry="0.83" fill="none" stroke="#1c1c1c" stroke-width="0.8" />
<ellipse cx="747.40" cy="49.02" rx="3.40" ry="1.21" fill="#fff" stroke="#1c1c1c" stroke-width="0.8" />
<ellipse cx="747.40" cy="54.83" rx="3.40" ry="1.57" fill="#fff" stroke="#1c1c1c" stroke-width="0.8" />
<ellipse cx="747.40" cy="62.11" rx="3.40" ry="1.91" fill="#fff" stroke="#1c1c1c" stroke-width="0.8" />
<ellipse cx="747.40" cy="70.76" rx="3.40" ry="2.22" fill="#fff" stroke="#1c1c1c" stroke-width="0.8" />
<ellipse cx="747.40" cy="80.66" rx="3.40" ry="2.51" fill="#fff" stroke="#1c1c1c" stroke-width="0.8" />
<ellipse cx="747.40" cy="91.67" rx="3.40" ry="2.76" fill="#fff" stroke="#1c1c1c" stroke-width="0.8" />
<ellipse cx="747.40" cy="103.66" rx="3.40" ry="2.97" fill="#fff" stroke="#1c1c1c" stroke-width="0.8" />
<clipPath id="h16"><ellipse cx="747.40" cy="103.66" rx="3.40" ry="2.97"/></clipPath>
<ellipse cx="747.40" cy="109.01" rx="3.40" ry="2.97" fill="none" stroke="#333" stroke-width="0.6400000000000001" clip-path="url(#h16)"/>
<ellipse cx="747.40" cy="116.45" rx="3.40" ry="3.14" fill="#fff" stroke="#1c1c1c" stroke-width="0.8" />
<clipPath id="h17"><ellipse cx="747.40" cy="116.45" rx="3.40" ry="3.14"/></clipPath>
<ellipse cx="747.40" cy="120.65" rx="3.40" ry="3.14" fill="none" stroke="#333" stroke-width="0.6400000000000001" clip-path="url(#h17)"/>
<ellipse cx="747.40" cy="129.88" rx="3.40" ry="3.27" fill="#fff" stroke="#1c1c1c" stroke-width="0.8" />
<clipPath id="h18"><ellipse cx="747.40" cy="129.88" rx="3.40" ry="3.27"/></clipPath>
<ellipse cx="747.40" cy="132.87" rx="3.40" ry="3.27" fill="none" stroke="#333" stroke-width="0.6400000000000001" clip-path="url(#h18)"/>
<clipPath id="h19"><ellipse cx="747.40" cy="129.88" rx="3.40" ry="3.27"/></clipPath>
<ellipse cx="747.40" cy="131.72" rx="3.40" ry="3.27" fill="none" stroke="#333" stroke-width="0.6400000000000001" clip-path="url(#h19)"/>
<ellipse cx="747.40" cy="143.75" rx="3.40" ry="3.36" fill="#fff" stroke="#1c1c1c" stroke-width="0.8" />
<clipPath id="h20"><ellipse cx="747.40" cy="143.75" rx="3.40" ry="3.36"/></clipPath>
<ellipse cx="747.40" cy="145.51" rx="3.40" ry="3.36" fill="none" stroke="#333" stroke-width="0.6400000000000001" clip-path="url(#h20)"/>
<clipPath id="h21"><ellipse cx="747.40" cy="143.75" rx="3.40" ry="3.36"/></clipPath>
<ellipse cx="747.40" cy="144.83" rx="3.40" ry="3.36" fill="none" stroke="#333" stroke-width="0.6400000000000001" clip-path="url(#h21)"/>
<ellipse cx="747.40" cy="157.90" rx="3.40" ry="3.40" fill="#fff" stroke="#1c1c1c" stroke-width="1.0" />
<clipPath id="h22"><ellipse cx="747.40" cy="157.90" rx="3.40" ry="3.40"/></clipPath>
<ellipse cx="747.40" cy="158.38" rx="3.40" ry="3.40" fill="none" stroke="#333" stroke-width="0.8" clip-path="url(#h22)"/>
<ellipse cx="747.40" cy="172.11" rx="3.40" ry="3.39" fill="#fff" stroke="#1c1c1c" stroke-width="1.0" />
<clipPath id="h23"><ellipse cx="747.40" cy="172.11" rx="3.40" ry="3.39"/></clipPath>
<ellipse cx="747.40" cy="171.32" rx="3.40" ry="3.39" fill="none" stroke="#333" stroke-width="0.8" clip-path="url(#h23)"/>
<clipPath id="h24"><ellipse cx="747.40" cy="172.11" rx="3.40" ry="3.39"/></clipPath>
<ellipse cx="747.40" cy="171.62" rx="3.40" ry="3.39" fill="none" stroke="#333" stroke-width="0.8" clip-path="url(#h24)"/>
<ellipse cx="747.40" cy="186.21" rx="3.40" ry="3.34" fill="#fff" stroke="#1c1c1c" stroke-width="0.8" />
<clipPath id="h25"><ellipse cx="747.40" cy="186.21" rx="3.40" ry="3.34"/></clipPath>
<ellipse cx="747.40" cy="184.15" rx="3.40" ry="3.34" fill="none" stroke="#333" stroke-width="0.6400000000000001" clip-path="url(#h25)"/>
<clipPath id="h26"><ellipse cx="747.40" cy="186.21" rx="3.40" ry="3.34"/></clipPath>
<ellipse cx="747.40" cy="184.94" rx="3.40" ry="3.34" fill="none" stroke="#333" stroke-width="0.6400000000000001" clip-path="url(#h26)"/>
<ellipse cx="747.40" cy="199.99" rx="3.40" ry="3.24" fill="#fff" stroke="#1c1c1c" stroke-width="0.8" />
<clipPath id="h27"><ellipse cx="747.40" cy="199.99" rx="3.40" ry="3.24"/></clipPath>
<ellipse cx="747.40" cy="196.70" rx="3.40" ry="3.24" fill="none" stroke="#333" stroke-width="0.6400000000000001" clip-path="url(#h27)"/>
<clipPath id="h28"><ellipse cx="747.40" cy="199.99" rx="3.40" ry="3.24"/></clipPath>
<ellipse cx="747.40" cy="197.97" rx="3.40" ry="3.24" fill="none" stroke="#333" stroke-width="0.6400000000000001" clip-path="url(#h28)"/>
<ellipse cx="747.40" cy="213.28" rx="3.40" ry="3.10" fill="#fff" stroke="#1c1c1c" stroke-width="0.8" />
<clipPath id="h29"><ellipse cx="747.40" cy="213.28" rx="3.40" ry="3.10"/></clipPath>
<ellipse cx="747.40" cy="208.80" rx="3.40" ry="3.10" fill="none" stroke="#333" stroke-width="0.6400000000000001" clip-path="url(#h29)"/>
<ellipse cx="747.40" cy="225.90" rx="3.40" ry="2.92" fill="#fff" stroke="#1c1c1c" stroke-width="0.8" />
<clipPath id="h30"><ellipse cx="747.40" cy="225.90" rx="3.40" ry="2.92"/></clipPath>
<ellipse cx="747.40" cy="220.28" rx="3.40" ry="2.92" fill="none" stroke="#333" stroke-width="0.6400000000000001" clip-path="url(#h30)"/>
<ellipse cx="747.40" cy="237.66" rx="3.40" ry="2.70" fill="#fff" stroke="#1c1c1c" stroke-width="0.8" />
<ellipse cx="747.40" cy="248.43" rx="3.40" ry="2.44" fill="#fff" stroke="#1c1c1c" stroke-width="0.8" />
<ellipse cx="747.40" cy="258.04" rx="3.40" ry="2.15" fill="#fff" stroke="#1c1c1c" stroke-width="0.8" />
<circle cx="671.70" cy="223.00" r="0.75" fill="#333"/>
<ellipse cx="702.90" cy="224.90" rx="1.20" ry="1.20" fill="none" stroke="#111" stroke-width="0.9" />
<path d="M728.5 181.8 Q729.8 179.4 731.1 181.8" fill="none" stroke="#111" stroke-width="0.9"/>
<rect x="661.5" y="350.5" width="93.0" height="219.0" fill="none" stroke="#646464" stroke-width="1"/>
<line x1="651.40" y1="569.90" x2="765.30" y2="569.90" stroke="#222" stroke-width="1.4" />
<ellipse cx="660.70" cy="566.30" rx="1.0" ry="2.6" fill="#111"/>
<ellipse cx="755.65" cy="566.30" rx="1.0" ry="2.6" fill="#111"/>
<line x1="665.90" y1="351.10" x2="672.70" y2="351.10" stroke="#111" stroke-width="1.3" />
<ellipse cx="669.30" cy="351.43" rx="3.40" ry="0.39" fill="#333" stroke="#1c1c1c" stroke-width="0.8" />
<ellipse cx="669.30" cy="353.90" rx="3.40" ry="0.78" fill="none" stroke="#1c1c1c" stroke-width="0.8" />
<ellipse cx="669.30" cy="357.97" rx="3.40" ry="1.16" fill="#fff" stroke="#1c1c1c" stroke-width="0.8" />
<ellipse cx="669.30" cy="363.60" rx="3.40" ry="1.53" fill="#fff" stroke="#1c1c1c" stroke-width="0.8" />
<ellipse cx="669.30" cy="370.71" rx="3.40" ry="1.87" fill="#fff" stroke="#1c1c1c" stroke-width="0.8" />
<ellipse cx="669.30" cy="379.20" rx="3.40" ry="2.19" fill="#fff" stroke="#1c1c1c" stroke-width="0.8" />
<ellipse cx="669.30" cy="388.96" rx="3.40" ry="2.47" fill="#fff" stroke="#1c1c1c" stroke-width="0.8" />
<ellipse cx="669.30" cy="399.85" rx="3.40" ry="2.73" fill="#fff" stroke="#1c1c1c" stroke-width="0.8" />
<ellipse cx="669.30" cy="411.73" rx="3.40" ry="2.94" fill="#fff" stroke="#1c1c1c" stroke-width="0.8" />
<clipPath id="h31"><ellipse cx="669.30" cy="411.73" rx="3.40" ry="2.94"/></clipPath>
<ellipse cx="669.30" cy="417.21" rx="3.40" ry="2.94" fill="none" stroke="#333" stroke-width="0.6400000000000001" clip-path="url(#h31)"/>
<ellipse cx="669.30" cy="424.43" rx="3.40" ry="3.12" fill="#fff" stroke="#1c1c1c" stroke-width="0.8" />
<clipPath id="h32"><ellipse cx="669.30" cy="424.43" rx="3.40" ry="3.12"/></clipPath>
<ellipse cx="669.30" cy="428.77" rx="3.40" ry="3.12" fill="none" stroke="#333" stroke-width="0.6400000000000001" clip-path="url(#h32)"/>
<ellipse cx="669.30" cy="437.79" rx="3.40" ry="3.26" fill="#fff" stroke="#1c1c1c" stroke-width="0.8" />
<clipPath id="h33"><ellipse cx="669.30" cy="437.79" rx="3.40" ry="3.26"/></clipPath>
<ellipse cx="669.30" cy="440.93" rx="3.40" ry="3.26" fill="none" stroke="#333" stroke-width="0.6400000000000001" clip-path="url(#h33)"/>
<clipPath id="h34"><ellipse cx="669.30" cy="437.79" rx="3.40" ry="3.26"/></clipPath>
<ellipse cx="669.30" cy="439.72" rx="3.40" ry="3.26" fill="none" stroke="#333" stroke-width="0.6400000000000001" clip-path="url(#h34)"/>
<ellipse cx="669.30" cy="451.62" rx="3.40" ry="3.35" fill="#fff" stroke="#1c1c1c" stroke-width="0.8" />
<clipPath id="h35"><ellipse cx="669.30" cy="451.62" rx="3.40" ry="3.35"/></clipPath>
<ellipse cx="669.30" cy="453.53" rx="3.40" ry="3.35" fill="none" stroke="#333" stroke-width="0.6400000000000001" clip-path="url(#h35)"/>
<clipPath id="h36"><ellipse cx="669.30" cy="451.62" rx="3.40" ry="3.35"/></clipPath>
<ellipse cx="669.30" cy="452.79" rx="3.40" ry="3.35" fill="none" stroke="#333" stroke-width="0.6400000000000001" clip-path="url(#h36)"/>
<ellipse cx="669.30" cy="465.74" rx="3.40" ry="3.39" fill="#fff" stroke="#1c1c1c" stroke-width="1.0" />
<clipPath id="h37"><ellipse cx="669.30" cy="465.74" rx="3.40" ry="3.39"/></clipPath>
<ellipse cx="669.30" cy="466.38" rx="3.40" ry="3.39" fill="none" stroke="#333" stroke-width="0.8" clip-path="url(#h37)"/>
<clipPath id="h38"><ellipse cx="669.30" cy="465.74" rx="3.40" ry="3.39"/></clipPath>
<ellipse cx="669.30" cy="466.13" rx="3.40" ry="3.39" fill="none" stroke="#333" stroke-width="0.8" clip-path="url(#h38)"/>
<ellipse cx="669.30" cy="479.96" rx="3.40" ry="3.39" fill="#fff" stroke="#1c1c1c" stroke-width="1.0" />
<clipPath id="h39"><ellipse cx="669.30" cy="479.96" rx="3.40" ry="3.39"/></clipPath>
<ellipse cx="669.30" cy="479.32" rx="3.40" ry="3.39" fill="none" stroke="#333" stroke-width="0.8" clip-path="url(#h39)"/>
<clipPath id="h40"><ellipse cx="669.30" cy="479.96" rx="3.40" ry="3.39"/></clipPath>
<ellipse cx="669.30" cy="479.57" rx="3.40" ry="3.39" fill="none" stroke="#333" stroke-width="0.8" clip-path="url(#h40)"/>
<ellipse cx="669.30" cy="494.08" rx="3.40" ry="3.35" fill="#fff" stroke="#1c1c1c" stroke-width="0.8" />
<clipPath id="h41"><ellipse cx="669.30" cy="494.08" rx="3.40" ry="3.35"/></clipPath>
<ellipse cx="669.30" cy="492.17" rx="3.40" ry="3.35" fill="none" stroke="#333" stroke-width="0.6400000000000001" clip-path="url(#h41)"/>
<clipPath id="h42"><ellipse cx="669.30" cy="494.08" rx="3.40" ry="3.35"/></clipPath>
<ellipse cx="669.30" cy="492.91" rx="3.40" ry="3.35" fill="none" stroke="#333" stroke-width="0.6400000000000001" clip-path="url(#h42)"/>
<ellipse cx="669.30" cy="507.91" rx="3.40" ry="3.26" fill="#fff" stroke="#1c1c1c" stroke-width="0.8" />
<clipPath id="h43"><ellipse cx="669.30" cy="507.91" rx="3.40" ry="3.26"/></clipPath>
<ellipse cx="669.30" cy="504.77" rx="3.40" ry="3.26" fill="none" stroke="#333" stroke-width="0.6400000000000001" clip-path="url(#h43)"/>
<clipPath id="h44"><ellipse cx="669.30" cy="507.91" rx="3.40" ry="3.26"/></clipPath>
<ellipse cx="669.30" cy="505.98" rx="3.40" ry="3.26" fill="none" stroke="#333" stroke-width="0.6400000000000001" clip-path="url(#h44)"/>
<ellipse cx="669.30" cy="521.27" rx="3.40" ry="3.12" fill="#fff" stroke="#1c1c1c" stroke-width="0.8" />
<clipPath id="h45"><ellipse cx="669.30" cy="521.27" rx="3.40" ry="3.12"/></clipPath>
<ellipse cx="669.30" cy="516.93" rx="3.40" ry="3.12" fill="none" stroke="#333" stroke-width="0.6400000000000001" clip-path="url(#h45)"/>
<ellipse cx="669.30" cy="533.98" rx="3.40" ry="2.94" fill="#fff" stroke="#1c1c1c" stroke-width="0.8" />
<clipPath id="h46"><ellipse cx="669.30" cy="533.98" rx="3.40" ry="2.94"/></clipPath>
<ellipse cx="669.30" cy="528.49" rx="3.40" ry="2.94" fill="none" stroke="#333" stroke-width="0.6400000000000001" clip-path="url(#h46)"/>
<ellipse cx="669.30" cy="545.85" rx="3.40" ry="2.73" fill="#fff" stroke="#1c1c1c" stroke-width="0.8" />
<ellipse cx="669.30" cy="556.74" rx="3.40" ry="2.47" fill="#fff" stroke="#1c1c1c" stroke-width="0.8" />
<ellipse cx="669.30" cy="566.50" rx="3.40" ry="2.19" fill="#fff" stroke="#1c1c1c" stroke-width="0.8" />
<ellipse cx="686.40" cy="491.00" rx="1.10" ry="1.50" fill="none" stroke="#111" stroke-width="0.8" />
<ellipse cx="713.00" cy="534.40" rx="1.30" ry="1.10" fill="none" stroke="#111" stroke-width="0.9" />
<ellipse cx="745.30" cy="532.50" rx="1.00" ry="1.30" fill="none" stroke="#222" stroke-width="0.7" />
<g style="filter:grayscale(1)">
<clipPath id="tc1"><text x="33.0" y="308" font-size="29.0" textLength="102.6" lengthAdjust="spacingAndGlyphs">Bottom</text></clipPath>
<text x="33.0" y="308" font-size="29.0" textLength="102.6" lengthAdjust="spacingAndGlyphs" fill="#fff" stroke="#161616" stroke-width="1.45" clip-path="url(#tc1)">Bottom</text>
<clipPath id="tc2"><text x="342.7" y="308" font-size="29.0" textLength="66.3" lengthAdjust="spacingAndGlyphs">Back</text></clipPath>
<text x="342.7" y="308" font-size="29.0" textLength="66.3" lengthAdjust="spacingAndGlyphs" fill="#fff" stroke="#161616" stroke-width="1.45" clip-path="url(#tc2)">Back</text>
<clipPath id="tc3"><text x="651.6" y="303" font-size="29.0" textLength="73.1" lengthAdjust="spacingAndGlyphs">Right</text></clipPath>
<text x="651.6" y="303" font-size="29.0" textLength="73.1" lengthAdjust="spacingAndGlyphs" fill="#fff" stroke="#161616" stroke-width="1.45" clip-path="url(#tc3)">Right</text>
<clipPath id="tc4"><text x="32.2" y="613" font-size="29.0" textLength="50.4" lengthAdjust="spacingAndGlyphs">Top</text></clipPath>
<text x="32.2" y="613" font-size="29.0" textLength="50.4" lengthAdjust="spacingAndGlyphs" fill="#fff" stroke="#161616" stroke-width="1.45" clip-path="url(#tc4)">Top</text>
<clipPath id="tc5"><text x="342.6" y="618" font-size="29.0" textLength="72.3" lengthAdjust="spacingAndGlyphs">Front</text></clipPath>
<text x="342.6" y="618" font-size="29.0" textLength="72.3" lengthAdjust="spacingAndGlyphs" fill="#fff" stroke="#161616" stroke-width="1.45" clip-path="url(#tc5)">Front</text>
<clipPath id="tc6"><text x="651.6" y="618" font-size="29.0" textLength="51.3" lengthAdjust="spacingAndGlyphs">Left</text></clipPath>
<text x="651.6" y="618" font-size="29.0" textLength="51.3" lengthAdjust="spacingAndGlyphs" fill="#fff" stroke="#161616" stroke-width="1.45" clip-path="url(#tc6)">Left</text>
</g>
</svg>
</body></html>
